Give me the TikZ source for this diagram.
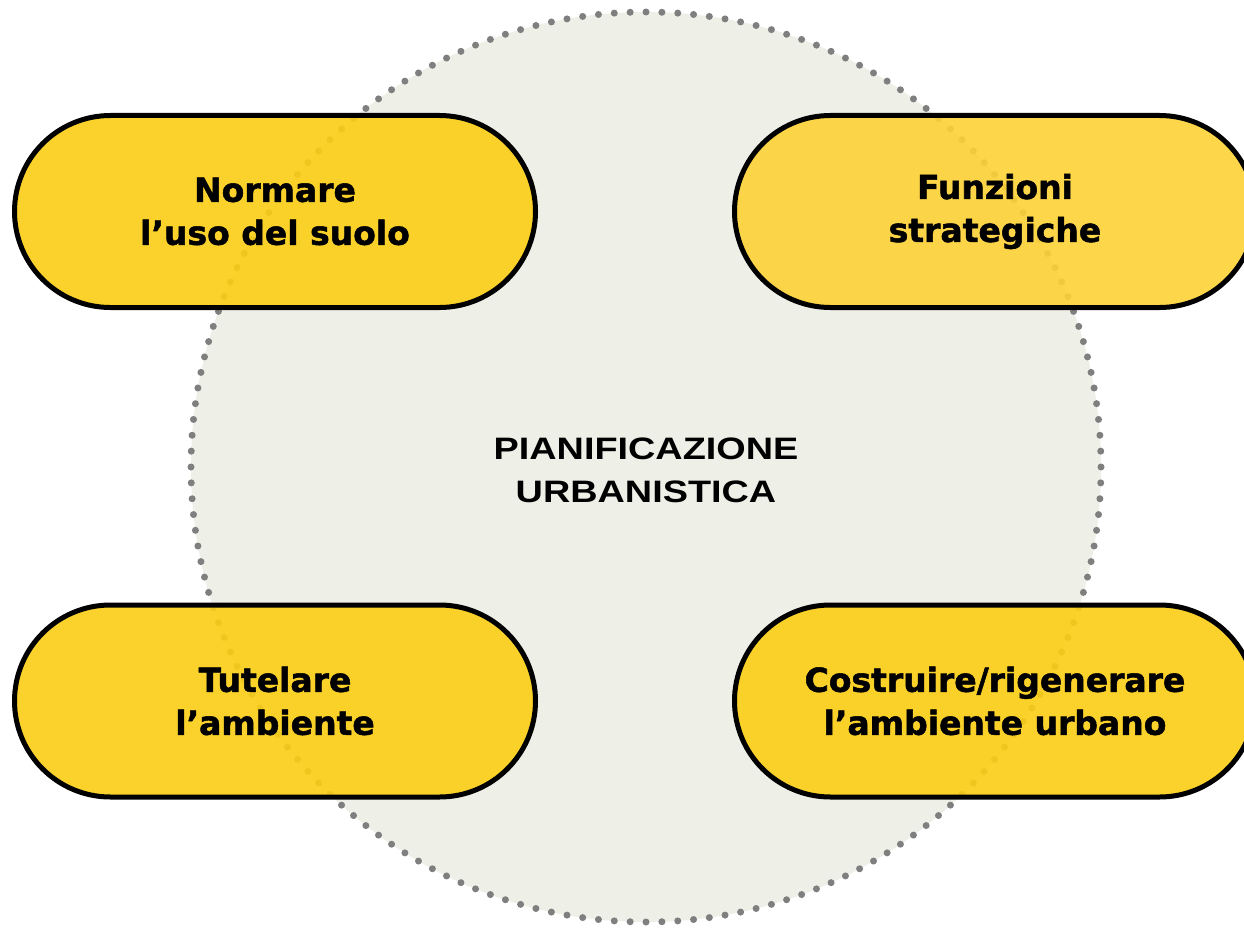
\documentclass[tikz,border=0pt]{standalone}
\usepackage{fontspec}
\usetikzlibrary{calc}
\setmainfont{Liberation Sans}
\newfontfamily\pillfont[BoldFeatures={FakeBold=1.6}]{DejaVu Sans}
\newfontfamily\centerfont[FakeStretch=1.22]{Liberation Sans}
\definecolor{circfill}{HTML}{EEEFE7}
\definecolor{dotgray}{HTML}{7F7F7F}
\definecolor{pillyel}{HTML}{FBCE14}
\definecolor{pillyellight}{HTML}{FED236}
\begin{document}
\begin{tikzpicture}[x=1pt,y=-1pt,
  pill/.style={draw=black, line width=5pt, fill=pillyel, fill opacity=0.9, text opacity=1,
    rounded corners=96pt, minimum width=521pt, minimum height=192pt,
    align=center, font=\pillfont\bfseries\fontsize{33}{43}\selectfont},
  centertext/.style={align=center, font=\centerfont\bfseries\fontsize{31}{43}\selectfont}]
\useasboundingbox (0,0) rectangle (1244,928);
\clip (0,0) rectangle (1244,928);
\fill[white] (0,0) rectangle (1244,928);
\node[circle, minimum size=910pt, fill=circfill, inner sep=0pt] (circ) at (646,467) {};
\foreach \a in {0,2,...,358}
  \fill[dotgray] ($(circ.center)+(\a:455pt)$) circle[radius=3.5pt];
\node[centertext] (center) at (646,470) {PIANIFICAZIONE\\URBANISTICA};
\node[pill] (tl) at (275,211.5) {Normare\\l’uso del suolo};
\node[pill, fill=pillyellight] (tr) at (995,211.5) {Funzioni\\strategiche};
\node[pill] (bl) at (275,701) {Tutelare\\l’ambiente};
\node[pill] (br) at (995,701) {Costruire/rigenerare\\l’ambiente urbano};
\end{tikzpicture}
\end{document}
